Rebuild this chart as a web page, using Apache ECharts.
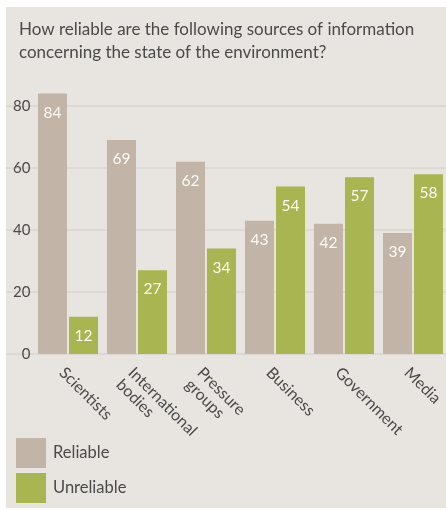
<!DOCTYPE html>
<html>
<head>
<meta charset="utf-8">
<script src="https://cdn.jsdelivr.net/npm/echarts@6/dist/echarts.min.js"></script>
<style>
  html, body { margin: 0; padding: 0; background: #fff; }
  #chart { position: absolute; left: 6px; top: 7px; width: 440px; height: 501px; background: #e8e4e0; }
</style>
</head>
<body>
<div id="chart"></div>
<script>
var categories = ['Scientists', 'International\nbodies', 'Pressure\ngroups', 'Business', 'Government', 'Media'];
var reliable = [84, 69, 62, 43, 42, 39];
var unreliable = [12, 27, 34, 54, 57, 58];
var yTicks = { min: 0, max: 80, interval: 20 };

var chart = echarts.init(document.getElementById('chart'));
var font = 'Lato, "Open Sans", sans-serif';

var valueLabel = {
  show: true,
  position: 'insideTop',
  distance: 11,
  color: '#fbfaf6',
  fontFamily: font,
  fontSize: 15.5
};

chart.setOption({
  animation: false,
  title: {
    text: 'How reliable are the following sources of information\nconcerning the state of the environment?',
    left: 13,
    top: 11,
    padding: 0,
    textStyle: {
      fontFamily: font,
      fontSize: 17,
      fontWeight: 'normal',
      color: '#4a4a4a',
      lineHeight: 23
    }
  },
  legend: {
    orient: 'vertical',
    left: 10,
    top: 431,
    padding: 0,
    itemWidth: 30,
    itemHeight: 30,
    itemGap: 5,
    icon: 'rect',
    textStyle: { fontFamily: font, fontSize: 16.5, color: '#4a4a4a', padding: [0, 0, 0, 2] },
    data: ['Reliable', 'Unreliable']
  },
  grid: [
    { left: 0, right: 0, top: 99, bottom: 154, outerBoundsMode: 'none' },
    { left: 27.5, right: -1.5, top: 99, bottom: 154, outerBoundsMode: 'none' }
  ],
  xAxis: [
    { gridIndex: 0, type: 'value', show: false, min: 0, max: 1 },
    {
      gridIndex: 1,
      type: 'category',
      data: categories,
      axisLine: { show: false },
      axisTick: { show: false },
      axisLabel: {
        interval: 0,
        rotate: -45,
        margin: 10,
        verticalAlign: 'top',
        fontFamily: font,
        fontSize: 16,
        lineHeight: 17,
        color: '#4a4a4a'
      }
    }
  ],
  yAxis: [
    {
      gridIndex: 0,
      type: 'value',
      min: yTicks.min, max: yTicks.max, interval: yTicks.interval,
      axisLine: { show: false },
      axisTick: { show: false },
      axisLabel: { show: false },
      splitLine: { lineStyle: { color: '#dbd5cf', width: 1.5 } }
    },
    {
      gridIndex: 1,
      type: 'value',
      min: yTicks.min, max: yTicks.max, interval: yTicks.interval,
      axisLine: { show: false },
      axisTick: { show: false },
      splitLine: { show: false },
      axisLabel: { margin: 3, fontFamily: font, fontSize: 15, color: '#4a4a4a' }
    }
  ],
  series: [
    {
      name: 'Reliable',
      type: 'bar',
      xAxisIndex: 1,
      yAxisIndex: 1,
      data: reliable,
      barWidth: 29,
      barGap: '7%',
      clip: false,
      itemStyle: { color: '#c2b5a8' },
      label: valueLabel
    },
    {
      name: 'Unreliable',
      type: 'bar',
      xAxisIndex: 1,
      yAxisIndex: 1,
      data: unreliable,
      barWidth: 29,
      barGap: '7%',
      clip: false,
      itemStyle: { color: '#a8b550' },
      label: valueLabel
    }
  ]
});
</script>
</body>
</html>
